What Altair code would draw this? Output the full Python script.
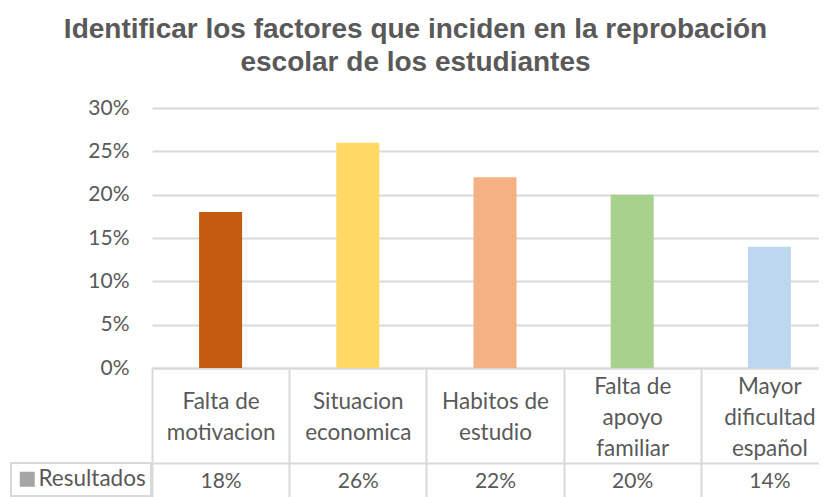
import json
import altair as alt
import pandas as pd

categories = ["Falta de\nmotivacion", "Situacion\neconomica", "Habitos de\nestudio",
              "Falta de\napoyo\nfamiliar", "Mayor\ndificultad\nespañol"]
values = [0.18, 0.26, 0.22, 0.20, 0.14]
colors = ["#C55A11", "#FFD966", "#F4B183", "#A9D18E", "#BDD7EE"]
series = ["Resultados"]
series_color = ["#A5A5A5"]
y_ticks = [0, 0.05, 0.10, 0.15, 0.20, 0.25, 0.30]
title_lines = ["Identificar los factores que inciden en la reprobación",
               "escolar de los estudiantes"]

df = pd.DataFrame({"cat": categories, "val": values, "color": colors,
                   "serie": series * len(categories)})

GRAY = "#595959"
LINE = "#D9D9D9"
FONT = "Lato"
W = 686
H = 260

# table row labels (values) looked up from the data arrays
value_labels = {c: f"{round(v * 100)}%" for c, v in zip(categories, values)}
value_expr = json.dumps(value_labels, ensure_ascii=False) + "[datum.value]"

xscale = alt.Scale(domain=categories, paddingInner=0, paddingOuter=0)

bars = alt.Chart(df).mark_bar(width=43).encode(
    x=alt.X("cat:N", scale=xscale, sort=categories,
            axis=alt.Axis(title=None, orient="bottom",
                          labelExpr="split(datum.label, '\\n')", labelAngle=0,
                          labelBaseline={"condition": {"test": "length(split(datum.value, '\\n')) > 2",
                                                       "value": "middle"},
                                         "value": "line-top"},
                          labelPadding=-77, tickSize=95,
                          tickBand="extent", tickColor=LINE, tickWidth=2,
                          domainColor=LINE, domainWidth=2, labelFontSize=22.5,
                          labelColor=GRAY, labelFont=FONT, labelLineHeight=31,
                          labelOverlap=False, labelLimit=300)),
    y=alt.Y("val:Q", scale=alt.Scale(domain=[0, 0.3], nice=False),
            axis=alt.Axis(values=y_ticks, format=".0%", title=None, domain=False,
                          ticks=False, labelPadding=23, labelFontSize=21,
                          labelColor=GRAY, labelFont=FONT, gridColor=LINE,
                          gridWidth=2)),
    color=alt.Color("color:N", scale=None),
)

row = alt.Chart(df).mark_square(opacity=0).encode(
    x=alt.X("cat:N", scale=xscale, sort=categories,
            axis=alt.Axis(title=None, orient="bottom", offset=95, labelExpr=value_expr,
                          labelAngle=0, labelBaseline="middle", labelPadding=-22,
                          tickSize=40, tickBand="extent", tickColor=LINE, tickWidth=2,
                          domainColor=LINE, domainWidth=2, labelFontSize=21,
                          labelColor=GRAY, labelFont=FONT, labelOverlap=False,
                          grid=False)),
    y=alt.Y("val:Q"),
    fill=alt.Fill("serie:N", scale=alt.Scale(domain=series, range=series_color),
                  legend=alt.Legend(orient="none", legendX=-141, legendY=355, title=None,
                                    symbolType="square", symbolSize=225,
                                    symbolOpacity=1, symbolStrokeWidth=0,
                                    labelFontSize=22.5, labelFont=FONT,
                                    labelColor=GRAY, labelOffset=0, padding=5,
                                    strokeColor=LINE)),
)

chart = alt.layer(bars, row).resolve_axis(x="independent").properties(
    width=W, height=H,
    title=alt.TitleParams(text=title_lines, font="Liberation Sans", fontSize=28,
                          fontWeight="bold", color=GRAY, lineHeight=33,
                          anchor="middle", frame="group", offset=20, dx=-79.5),
    autosize=alt.AutoSizeParams(type="none"),
    padding={"left": 144, "top": 100, "right": -19, "bottom": 129},
).configure_view(stroke="transparent").configure_legend(strokeWidth=2)

chart.save("out.html", embed_options={"renderer": "svg", "actions": False})
